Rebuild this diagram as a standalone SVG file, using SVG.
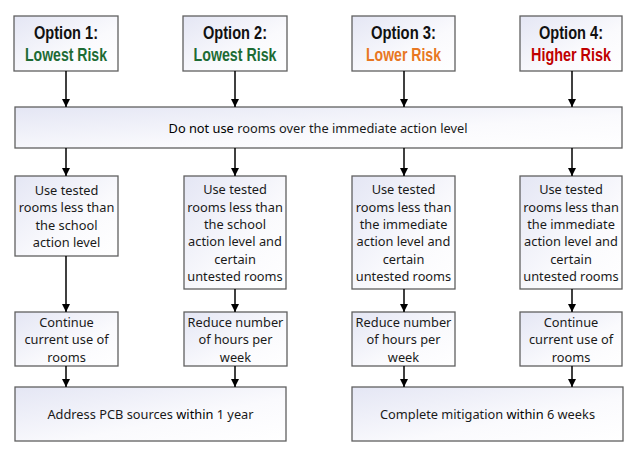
<svg xmlns="http://www.w3.org/2000/svg" width="640" height="457" viewBox="0 0 640 457">
<defs>
<linearGradient id="g" x1="0" y1="0" x2="1" y2="1">
<stop offset="0" stop-color="#e4e6f4"/>
<stop offset="0.6" stop-color="#fafafd"/>
<stop offset="1" stop-color="#ffffff"/>
</linearGradient>
<marker id="ah" markerWidth="8" markerHeight="8" refX="8" refY="4" orient="auto" markerUnits="userSpaceOnUse">
<path d="M0,0 L8,4 L0,8 Z" fill="#000"/>
</marker>
<style>
.box{fill:url(#g);stroke:#606060;stroke-width:1.3}
.t{font-family:"Noto Sans","Liberation Sans",Arial,sans-serif;font-size:12.8px;fill:#1a1a1a;text-anchor:middle}
.h{font-family:"Liberation Sans",Arial,sans-serif;font-weight:bold;font-size:17.5px;text-anchor:middle;fill:#111}
.c line{stroke:#000;stroke-width:1.5;marker-end:url(#ah)}
</style>
</defs>
<rect width="640" height="457" fill="#fff"/>
<g id="opt1"><rect class="box" x="14" y="16" width="104" height="55"/><text class="h" x="66" y="39" textLength="64" lengthAdjust="spacingAndGlyphs">Option 1:</text><text class="h" x="66" y="61" textLength="82" lengthAdjust="spacingAndGlyphs" style="fill:#1d6b34">Lowest Risk</text></g>
<g id="opt2"><rect class="box" x="183" y="16" width="104" height="55"/><text class="h" x="235" y="39" textLength="64" lengthAdjust="spacingAndGlyphs">Option 2:</text><text class="h" x="235" y="61" textLength="83" lengthAdjust="spacingAndGlyphs" style="fill:#1d6b34">Lowest Risk</text></g>
<g id="opt3"><rect class="box" x="352" y="16" width="103" height="55"/><text class="h" x="403.5" y="39" textLength="65" lengthAdjust="spacingAndGlyphs">Option 3:</text><text class="h" x="403.5" y="61" textLength="75" lengthAdjust="spacingAndGlyphs" style="fill:#e87722">Lower Risk</text></g>
<g id="opt4"><rect class="box" x="520" y="16" width="102" height="55"/><text class="h" x="571" y="39" textLength="64" lengthAdjust="spacingAndGlyphs">Option 4:</text><text class="h" x="571" y="61" textLength="80" lengthAdjust="spacingAndGlyphs" style="fill:#c00000">Higher Risk</text></g>
<g id="donot"><rect class="box" x="15" y="107" width="607" height="41"/><text class="t" x="318" y="132.5"><tspan style="fill:#000">Do not use</tspan> rooms over the immediate action level</text></g>
<g id="use1"><rect class="box" x="15" y="176" width="103" height="80"/><text class="t"><tspan x="66.5" y="195">Use tested</tspan><tspan x="66.5" y="212">rooms less than</tspan><tspan x="66.5" y="230">the school</tspan><tspan x="66.5" y="247">action level</tspan></text></g>
<g id="use2"><rect class="box" x="184" y="176" width="102" height="113"/><text class="t"><tspan x="235" y="194">Use tested</tspan><tspan x="235" y="212">rooms less than</tspan><tspan x="235" y="229">the school</tspan><tspan x="235" y="246">action level and</tspan><tspan x="235" y="264">certain</tspan><tspan x="235" y="281">untested rooms</tspan></text></g>
<g id="use3"><rect class="box" x="352" y="176" width="103" height="113"/><text class="t"><tspan x="403.5" y="194">Use tested</tspan><tspan x="403.5" y="212">rooms less than</tspan><tspan x="403.5" y="229">the immediate</tspan><tspan x="403.5" y="246">action level and</tspan><tspan x="403.5" y="264">certain</tspan><tspan x="403.5" y="281">untested rooms</tspan></text></g>
<g id="use4"><rect class="box" x="520" y="176" width="102" height="113"/><text class="t"><tspan x="571" y="194">Use tested</tspan><tspan x="571" y="212">rooms less than</tspan><tspan x="571" y="229">the immediate</tspan><tspan x="571" y="246">action level and</tspan><tspan x="571" y="264">certain</tspan><tspan x="571" y="281">untested rooms</tspan></text></g>
<g id="act1"><rect class="box" x="15" y="312" width="103" height="54"/><text class="t"><tspan x="66.5" y="327">Continue</tspan><tspan x="66.5" y="344">current use of</tspan><tspan x="66.5" y="362">rooms</tspan></text></g>
<g id="act2"><rect class="box" x="184" y="312" width="103" height="54"/><text class="t"><tspan x="235.5" y="327">Reduce number</tspan><tspan x="235.5" y="344">of hours per</tspan><tspan x="235.5" y="362">week</tspan></text></g>
<g id="act3"><rect class="box" x="352" y="312" width="103" height="54"/><text class="t"><tspan x="403.5" y="327">Reduce number</tspan><tspan x="403.5" y="344">of hours per</tspan><tspan x="403.5" y="362">week</tspan></text></g>
<g id="act4"><rect class="box" x="520" y="312" width="102" height="54"/><text class="t"><tspan x="571" y="327">Continue</tspan><tspan x="571" y="344">current use of</tspan><tspan x="571" y="362">rooms</tspan></text></g>
<g id="addr"><rect class="box" x="15" y="387" width="271" height="54"/><text class="t" x="150.5" y="418.5">Address PCB sources <tspan style="fill:#000">within</tspan> 1 year</text></g>
<g id="mitig"><rect class="box" x="352" y="387" width="271" height="54"/><text class="t" x="487.5" y="418.5">Complete mitigation <tspan style="fill:#000">within</tspan> 6 weeks</text></g>
<g id="connectors" class="c">
<line x1="66" y1="71" x2="66" y2="107"/>
<line x1="235" y1="71" x2="235" y2="107"/>
<line x1="404" y1="71" x2="404" y2="107"/>
<line x1="572" y1="71" x2="572" y2="107"/>
<line x1="66" y1="148" x2="66" y2="176"/>
<line x1="235" y1="148" x2="235" y2="176"/>
<line x1="404" y1="148" x2="404" y2="176"/>
<line x1="572" y1="148" x2="572" y2="176"/>
<line x1="66" y1="256" x2="66" y2="312"/>
<line x1="235" y1="289" x2="235" y2="312"/>
<line x1="404" y1="289" x2="404" y2="312"/>
<line x1="572" y1="289" x2="572" y2="312"/>
<line x1="66" y1="366" x2="66" y2="387"/>
<line x1="235" y1="366" x2="235" y2="387"/>
<line x1="404" y1="366" x2="404" y2="387"/>
<line x1="572" y1="366" x2="572" y2="387"/>
</g>
</svg>
